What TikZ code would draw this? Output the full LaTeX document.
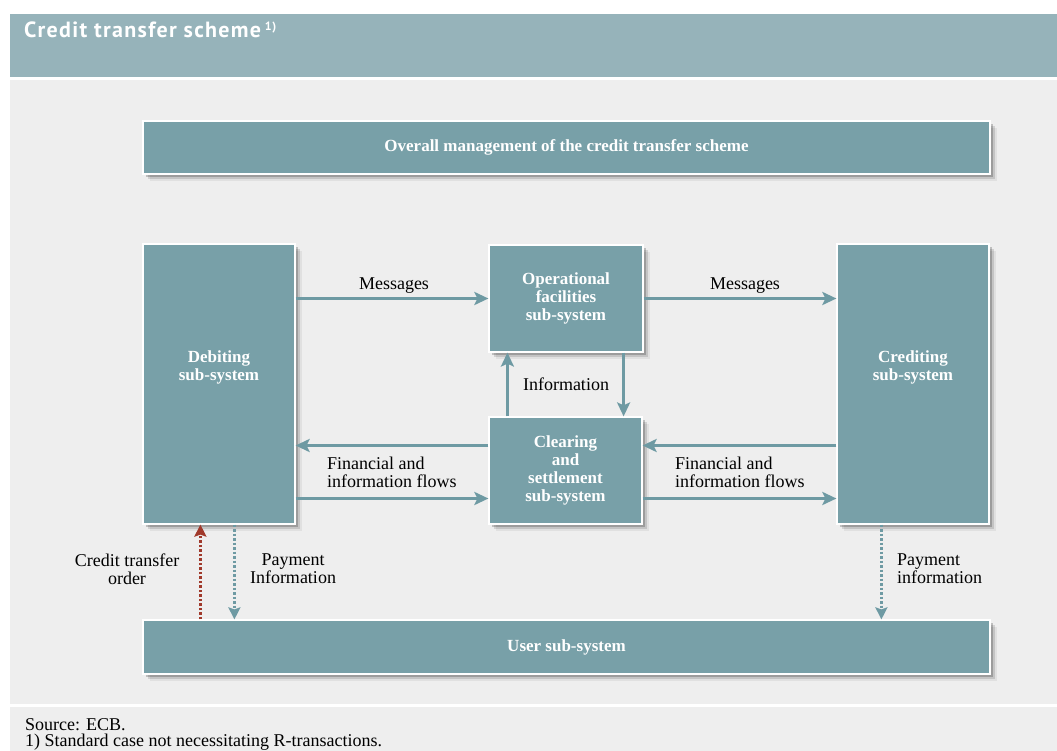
\documentclass[tikz,border=0pt]{standalone}
\usepackage{fontspec}
\setmainfont{Liberation Serif}
\newfontfamily\titlefont[LetterSpace=6]{PT Sans}
\usepackage{tikz}
\usetikzlibrary{positioning, arrows.meta, shadows}

\definecolor{headband}{HTML}{96B3BA}
\definecolor{panelgray}{HTML}{EEEEEE}
\definecolor{boxteal}{HTML}{78A0A8}
\definecolor{flowteal}{HTML}{6E9AA3}
\definecolor{orderred}{HTML}{A0392B}

\begin{document}
\begin{tikzpicture}[x=1pt, y=-1pt,
	softshadow/.style={
		drop shadow={shadow xshift=7pt, shadow yshift=-7pt, opacity=.06, fill=black},
		drop shadow={shadow xshift=5pt, shadow yshift=-5pt, opacity=.12, fill=black},
		drop shadow={shadow xshift=3pt, shadow yshift=-3pt, opacity=.20, fill=black}},
	subsystem/.style={draw=white, line width=1.2pt, fill=boxteal, text=white,
		font=\fontsize{17}{18}\selectfont\bfseries, align=center,
		inner sep=0pt, softshadow},
	boxtext/.style={text=white, font=\fontsize{17}{18}\selectfont\bfseries,
		align=center, inner sep=0pt},
	flow/.style={line width=3pt, draw=flowteal,
		-{Stealth[length=14pt, width=13pt, inset=3pt]}},
	dotflow/.style={line width=2.5pt, draw=flowteal, dash pattern=on 2.5pt off 2pt,
		-{Stealth[length=12pt, width=12pt, inset=2pt]}},
	orderflow/.style={dotflow, draw=orderred},
	flowlabel/.style={font=\fontsize{18}{18}\selectfont, text=black, inner sep=0pt}]

	\useasboundingbox (0,0) rectangle (1057,751);

	% Background bands
	\fill[white] (0,0) rectangle (1057,751);
	\fill[headband] (10,14) rectangle (1057,77);
	\fill[panelgray] (10,80) rectangle (1057,704);
	\fill[panelgray] (10,707) rectangle (1057,751);

	\node[anchor=base west,
		  inner sep=0pt,
		  text=white,
		  font=\titlefont\bfseries\fontsize{22}{24}\selectfont] (title) at (24,38)
		  {Credit transfer scheme\,\textsuperscript{\fontsize{12}{12}\selectfont 1)}};

	% Add the sub-systems
	\node[subsystem,
		  minimum width=847pt,
		  minimum height=53pt] (mgmt) at (566.5,147.5)
		  {Overall management of the credit transfer scheme};
	\node[subsystem,
		  minimum width=152pt,
		  minimum height=280pt] (debit) at (219,384) {};
	\node[subsystem,
		  minimum width=154pt,
		  minimum height=107pt] (oper) at (566,298.5)
		  {Operational\\facilities\\sub-system};
	\node[subsystem,
		  minimum width=153pt,
		  minimum height=107pt] (clear) at (565.5,470.5)
		  {Clearing\\and\\settlement\\sub-system};
	\node[subsystem,
		  minimum width=152pt,
		  minimum height=280pt] (credit) at (913,384) {};
	\node[subsystem,
		  minimum width=847pt,
		  minimum height=54pt] (user) at (566.5,647)
		  {User sub-system};

	\node[boxtext] (debittext) at ([yshift=17pt]debit.center) {Debiting\\sub-system};
	\node[boxtext] (credittext) at ([yshift=17pt]credit.center) {Crediting\\sub-system};

	% Add the flows
	\path ([yshift=25pt]clear.west) coordinate (finin)
		  ([yshift=-28pt]clear.west) coordinate (finout)
		  ([xshift=19pt]clear.north west) coordinate (infoup)
		  ([xshift=-20pt]oper.south east) coordinate (infodown)
		  ([xshift=58pt]user.north west) coordinate (orderx)
		  ([xshift=92pt]user.north west) coordinate (payx)
		  ([xshift=45pt]credit.south west) coordinate (payy);

	\draw[flow] (debit.east |- oper.west) -- (oper.west);
	\draw[flow] (oper.east) -- (credit.west |- oper.east);
	\draw[flow] (infoup) -- (infoup |- oper.south);
	\draw[flow] (infodown) -- (infodown |- clear.north);
	\draw[flow] (finin) -- (debit.east |- finin);
	\draw[flow] (debit.east |- finout) -- (finout);
	\draw[flow] (credit.west |- finin) -- (clear.east |- finin);
	\draw[flow] (clear.east |- finout) -- (credit.west |- finout);

	\draw[orderflow] (orderx) -- (orderx |- debit.south);
	\draw[dotflow] (payx |- debit.south) -- (payx);
	\draw[dotflow] (payy) -- (payy |- user.north);

	% Add the labels
	\node[flowlabel] (msgleft) at (394,286) {Messages};
	\node[flowlabel] (msgright) at (745,286) {Messages};
	\node[flowlabel] (info) at (566,384) {Information};
	\node[flowlabel, anchor=west, align=left] (finleft) at (327,472)
		  {Financial and\\information flows};
	\node[flowlabel, anchor=west, align=left] (finright) at (675,472)
		  {Financial and\\information flows};
	\node[flowlabel, align=center] (order) at (127,569)
		  {Credit transfer\\order};
	\node[flowlabel, align=center] (payleft) at (293,569)
		  {Payment\\Information};
	\node[flowlabel, anchor=west, align=left] (payright) at (897,569)
		  {Payment\\information};

	% Footer
	\node[anchor=base west, inner sep=0pt, font=\fontsize{18}{18}\selectfont] (source) at (25,730)
		  {Source: ECB.};
	\node[anchor=base west, inner sep=0pt, font=\fontsize{18}{18}\selectfont] (note) at (25,746)
		  {1) Standard case not necessitating R-transactions.};
\end{tikzpicture}
\end{document}
